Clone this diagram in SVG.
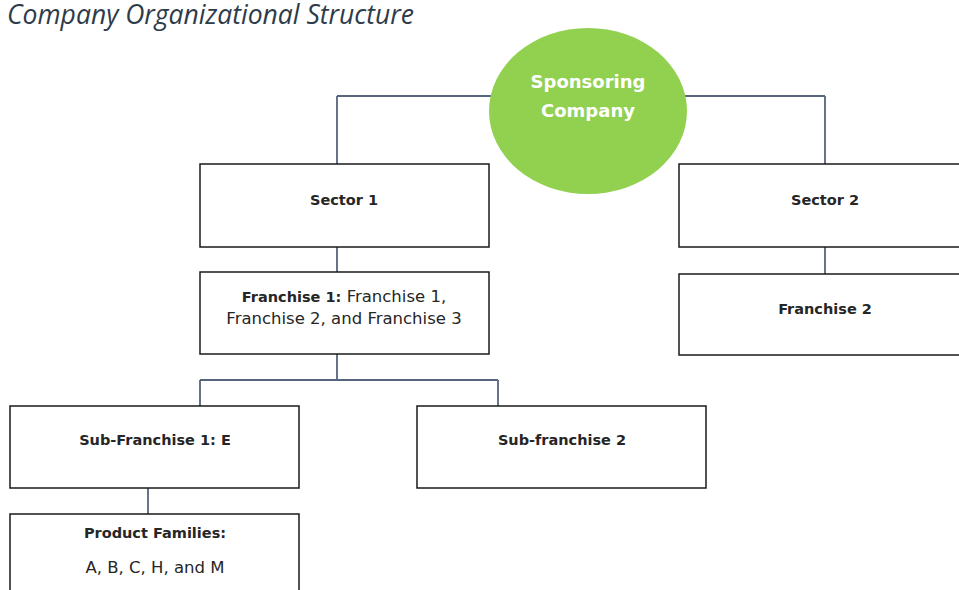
<svg xmlns="http://www.w3.org/2000/svg" width="959" height="590" viewBox="0 0 959 590">
<style>
.box{fill:#fff;stroke:#1a1a1a;stroke-width:1.5}
.lbl{font-family:"DejaVu Sans","Liberation Sans",sans-serif;font-size:16.5px;fill:#262626;text-anchor:middle}
.b{font-weight:bold;font-size:14.5px}
.con{fill:none;stroke:#56657c;stroke-width:1.8}
</style>
<rect width="959" height="590" fill="#fff"/>
<text x="7" y="24" font-family="'Open Sans','Liberation Sans',sans-serif" font-style="italic" font-size="26.5" fill="#2e3b49">Company Organizational Structure</text>
<g id="connectors">
<path class="con" d="M337 96H825M337 96V164M825 96V164"/>
<path class="con" d="M337 247V272M825 247V274"/>
<path class="con" d="M337 354V380M200 380H498M200 380V406M498 380V406"/>
<path class="con" d="M148 488V514"/>
</g>
<g id="sponsor">
<ellipse cx="588" cy="111" rx="99" ry="83" fill="#92d050"/>
<text x="588" y="88" font-family="'DejaVu Sans','Liberation Sans',sans-serif" font-weight="bold" font-size="18" fill="#fff" text-anchor="middle">Sponsoring</text>
<text x="588" y="117" font-family="'DejaVu Sans','Liberation Sans',sans-serif" font-weight="bold" font-size="18" fill="#fff" text-anchor="middle">Company</text>
</g>
<g id="sector1">
<rect class="box" x="200" y="164" width="289" height="83"/>
<text class="lbl b" x="344" y="205">Sector 1</text>
</g>
<g id="sector2">
<rect class="box" x="679" y="164" width="290" height="83"/>
<text class="lbl b" x="825" y="205">Sector 2</text>
</g>
<g id="franchise1">
<rect class="box" x="200" y="272" width="289" height="82"/>
<text class="lbl" x="344" y="302"><tspan class="b">Franchise 1:</tspan> Franchise 1,</text>
<text class="lbl" x="344" y="324">Franchise 2, and Franchise 3</text>
</g>
<g id="franchise2">
<rect class="box" x="679" y="274" width="290" height="81"/>
<text class="lbl b" x="825" y="314">Franchise 2</text>
</g>
<g id="subfranchise1">
<rect class="box" x="10" y="406" width="289" height="82"/>
<text class="lbl b" x="155" y="445">Sub-Franchise 1: E</text>
</g>
<g id="subfranchise2">
<rect class="box" x="417" y="406" width="289" height="82"/>
<text class="lbl b" x="562" y="445">Sub-franchise 2</text>
</g>
<g id="productfamilies">
<rect class="box" x="10" y="514" width="289" height="90"/>
<text class="lbl b" x="155" y="538">Product Families:</text>
<text class="lbl" x="155" y="573">A, B, C, H, and M</text>
</g>
</svg>
